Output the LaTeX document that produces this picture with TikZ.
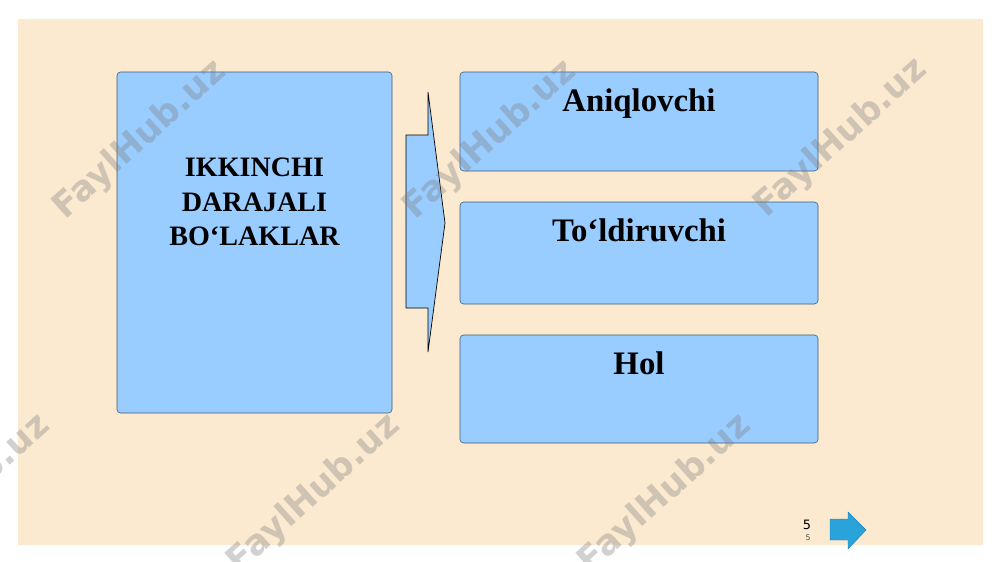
\documentclass[tikz,border=0pt]{standalone}
\usepackage{fontspec}
\setmainfont{Liberation Serif}
\newfontfamily\wmfont{DejaVu Sans}
\usetikzlibrary{positioning}

\definecolor{slidebg}{HTML}{FCEAD0}
\definecolor{boxblue}{HTML}{99CCFF}
\definecolor{boxedge}{HTML}{3E5C78}
\definecolor{navblue}{HTML}{2AA3DB}
\definecolor{navedge}{HTML}{1E7FB0}

\begin{document}
\begin{tikzpicture}[x=0.03cm, y=-0.03cm,
    part/.style={draw=boxedge, fill=boxblue, rounded corners=3pt, line width=0.5pt},
    parttext/.style={font=\bfseries\fontsize{28}{34}\selectfont, anchor=base},
    watermark/.style={font=\wmfont\bfseries\fontsize{30}{36}\selectfont, text=gray, opacity=0.36, rotate=42}]
        % Page and slide background
        \useasboundingbox (0,0) rectangle (1000,562);
        \fill[white] (0,0) rectangle (1000,562);
        \fill[slidebg] (18,19) rectangle (983,545);

        % Draw the left box
        \draw[part] (117,72) rectangle (392,413);
        \node[font=\bfseries\fontsize{24}{29.5}\selectfont, align=center, inner sep=0pt]
            (main) at (254.5,202) {IKKINCHI\\DARAJALI\\BO‘LAKLAR};

        % Draw the big arrow
        \draw[fill=boxblue, line width=0.6pt, line join=miter]
            (406,135) -- (428,135) -- (428,92) -- (445,223) -- (428,352)
            -- (428,308) -- (406,308) -- cycle;

        % Draw the three right boxes
        \draw[part] (460,72) rectangle (818,171);
        \draw[part] (460,202) rectangle (818,304);
        \draw[part] (460,335) rectangle (818,443);

        % Label the boxes
        \node[parttext] (aniq) at (639,111) {Aniqlovchi};
        \node[parttext] (toldir) at (639,241) {To‘ldiruvchi};
        \node[parttext] (hol) at (639,374) {Hol};

        % Page number and next arrow
        \node[font=\wmfont\fontsize{11}{13}\selectfont, inner sep=0pt] (page) at (807,525) {5};
        \node[font=\wmfont\fontsize{6.6}{8}\selectfont, text=black!70, inner sep=0pt] (subpage) at (808,538) {5};
        \draw[fill=navblue, draw=navedge, line width=0.4pt]
            (830,519) -- (848,519) -- (848,512) -- (866,530) -- (848,549)
            -- (848,540) -- (830,540) -- cycle;

        % Watermarks
        \node[watermark] (wm1) at (140,140) {FaylHub.uz};
        \node[watermark] (wm2) at (490,140) {FaylHub.uz};
        \node[watermark] (wm3) at (841,138) {FaylHub.uz};
        \node[watermark] (wm4) at (-36,494) {FaylHub.uz};
        \node[watermark] (wm5) at (314,494) {FaylHub.uz};
        \node[watermark] (wm6) at (665,494) {FaylHub.uz};
    \end{tikzpicture}
\end{document}
